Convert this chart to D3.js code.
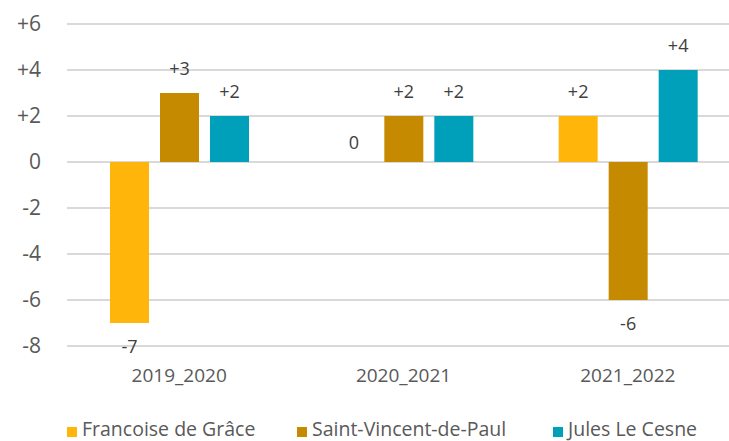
<!DOCTYPE html>
<html>
<head>
<meta charset="utf-8">
<script src="https://cdn.jsdelivr.net/npm/d3@7"></script>
<style>
  body { margin: 0; background: #fff; }
  text { font-family: "Open Sans", "Noto Sans", sans-serif; }
</style>
</head>
<body>
<svg width="729" height="441"></svg>
<script>
const svg = d3.select("svg");

const categories = ["2019_2020", "2020_2021", "2021_2022"];
const series = ["Francoise de Grâce", "Saint-Vincent-de-Paul", "Jules Le Cesne"];
const colours = ["#FFB50A", "#C58A00", "#00A0BA"];
const values = [
    [-7, 3, 2],
    [0, 2, 2],
    [2, -6, 4]
];
const yTicks = [-8, -6, -4, -2, 0, 2, 4, 6];

const x = d3.scaleBand().domain(categories).range([67, 740]);
// bars inside each category group
const xs = d3.scaleBand().domain(series).range([43, 182]).paddingInner(0.22);
const y = d3.scaleLinear().domain([-8, 6]).range([346, 24]);

const fmt = v => v > 0 ? "+" + v : String(v);

// gridlines
svg.append("g")
    .selectAll("line")
    .data(yTicks)
    .join("line")
    .attr("x1", 67)
    .attr("x2", 729)
    .attr("y1", d => y(d))
    .attr("y2", d => y(d))
    .attr("stroke", "#D9D9D9")
    .attr("stroke-width", 2);

// y axis labels
const yAxis = svg.append("g")
    .attr("transform", "translate(41,0)")
    .call(d3.axisLeft(y).tickValues(yTicks).tickFormat(fmt).tickSize(0).tickPadding(0));
yAxis.select(".domain").remove();
yAxis.selectAll("text")
    .attr("font-size", 21)
    .attr("fill", "#595959")
    .attr("font-family", "Open Sans, sans-serif");

// x axis labels
const xAxis = svg.append("g")
    .attr("transform", "translate(0,368)")
    .call(d3.axisBottom(x).tickSize(0).tickPadding(0));
xAxis.select(".domain").remove();
xAxis.selectAll("text")
    .attr("font-size", 19)
    .attr("fill", "#595959")
    .attr("font-family", "Open Sans, sans-serif");

// bars
const groups = svg.append("g")
    .selectAll("g")
    .data(categories)
    .join("g")
    .attr("transform", d => `translate(${x(d)},0)`);

const cells = groups.selectAll("g")
    .data((d, i) => series.map((s, j) => ({ s, j, v: values[i][j] })))
    .join("g");

cells.append("rect")
    .attr("x", d => xs(d.s))
    .attr("width", xs.bandwidth())
    .attr("y", d => y(Math.max(0, d.v)))
    .attr("height", d => Math.abs(y(d.v) - y(0)))
    .attr("fill", d => colours[d.j]);

cells.append("text")
    .attr("x", d => xs(d.s) + xs.bandwidth() / 2)
    .attr("y", d => d.v < 0 ? y(d.v) + 30 : (d.v === 0 ? y(0) - 13 : y(d.v) - 18))
    .attr("text-anchor", "middle")
    .attr("font-size", 18)
    .attr("fill", "#404040")
    .text(d => fmt(d.v));

// legend
const legendX = [67, 297, 553];
const legend = svg.append("g")
    .selectAll("g")
    .data(series)
    .join("g")
    .attr("transform", (d, i) => `translate(${legendX[i]},431)`);

legend.append("rect")
    .attr("x", 0)
    .attr("y", -4)
    .attr("width", 10)
    .attr("height", 10)
    .attr("fill", (d, i) => colours[i]);

legend.append("text")
    .attr("x", 15)
    .attr("y", 5)
    .attr("font-size", 19.5)
    .attr("fill", "#595959")
    .text(d => d);
</script>
</body>
</html>
